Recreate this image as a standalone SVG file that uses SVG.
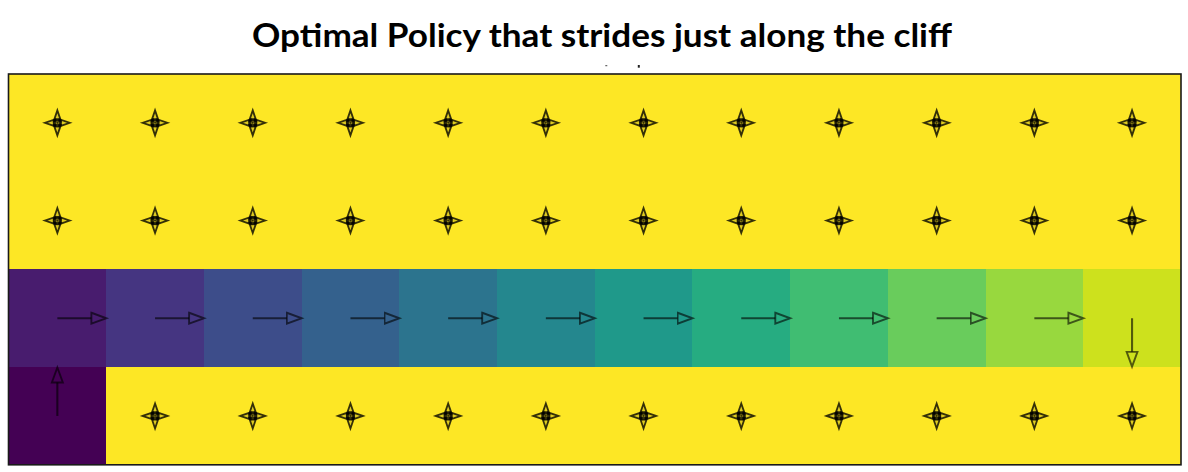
<svg xmlns="http://www.w3.org/2000/svg" xmlns:xlink="http://www.w3.org/1999/xlink" width="1188" height="472" viewBox="0 0 1188 472">
  <style>
    .title { font-family: "Lato", "Liberation Sans", sans-serif; font-weight: bold; font-size: 33px; fill: #000; }
    rect.c { shape-rendering: crispEdges; }
    .y { fill: #fde725; }
    .arr { stroke: #000; stroke-opacity: 0.6; stroke-width: 2.1; fill: none; }
    .starArm { stroke: #000; stroke-opacity: 0.78; stroke-width: 1.8; fill: #000; fill-opacity: 0.12; stroke-linejoin: miter; }
  </style>
  <defs>
    <marker id="head" markerUnits="userSpaceOnUse" markerWidth="20" markerHeight="16" refX="1" refY="8" orient="auto" viewBox="0 0 20 16">
      <path d="M1,2.5 L16,8 L1,13.5 Z" fill="none" stroke="#000" stroke-opacity="0.6" stroke-width="1.9"/>
    </marker>
    <g id="star">
      <path class="starArm" d="M0,-12.5 L-3.6,-2 L3.6,-2 Z"/>
      <path class="starArm" d="M0,12.5 L-3.6,2 L3.6,2 Z"/>
      <path class="starArm" d="M-12.5,0 L-2,-3.6 L-2,3.6 Z"/>
      <path class="starArm" d="M12.5,0 L2,-3.6 L2,3.6 Z"/>
      <circle r="3.6" fill="none" stroke="#000" stroke-opacity="0.85" stroke-width="2"/>
      <circle r="1.1" fill="#000" fill-opacity="0.8"/>
    </g>
  </defs>

  <rect width="1188" height="472" fill="#ffffff"/>
  <text class="title" x="602" y="47" text-anchor="middle" textLength="700" lengthAdjust="spacingAndGlyphs">Optimal Policy that strides just along the cliff</text>
  <rect x="605.3" y="65.2" width="2" height="1" fill="#444"/>
  <rect x="637.8" y="65" width="2" height="2.7" fill="#222"/>

  <rect class="c y" x="8.5" y="74" width="1172.5" height="390.8"/>

  <!-- row 0 -->
  <g id="cell-0-0"><rect class="c y" x="8.5" y="74" width="97.7" height="97.7"/><use xlink:href="#star" x="57.35" y="122.85"/></g>
  <g id="cell-0-1"><rect class="c y" x="106.2" y="74" width="97.7" height="97.7"/><use xlink:href="#star" x="155.05" y="122.85"/></g>
  <g id="cell-0-2"><rect class="c y" x="203.9" y="74" width="97.7" height="97.7"/><use xlink:href="#star" x="252.75" y="122.85"/></g>
  <g id="cell-0-3"><rect class="c y" x="301.6" y="74" width="97.7" height="97.7"/><use xlink:href="#star" x="350.45" y="122.85"/></g>
  <g id="cell-0-4"><rect class="c y" x="399.3" y="74" width="97.7" height="97.7"/><use xlink:href="#star" x="448.15" y="122.85"/></g>
  <g id="cell-0-5"><rect class="c y" x="497" y="74" width="97.7" height="97.7"/><use xlink:href="#star" x="545.85" y="122.85"/></g>
  <g id="cell-0-6"><rect class="c y" x="594.7" y="74" width="97.7" height="97.7"/><use xlink:href="#star" x="643.55" y="122.85"/></g>
  <g id="cell-0-7"><rect class="c y" x="692.4" y="74" width="97.7" height="97.7"/><use xlink:href="#star" x="741.25" y="122.85"/></g>
  <g id="cell-0-8"><rect class="c y" x="790.1" y="74" width="97.7" height="97.7"/><use xlink:href="#star" x="838.95" y="122.85"/></g>
  <g id="cell-0-9"><rect class="c y" x="887.8" y="74" width="97.7" height="97.7"/><use xlink:href="#star" x="936.65" y="122.85"/></g>
  <g id="cell-0-10"><rect class="c y" x="985.5" y="74" width="97.7" height="97.7"/><use xlink:href="#star" x="1034.35" y="122.85"/></g>
  <g id="cell-0-11"><rect class="c y" x="1083.2" y="74" width="97.8" height="97.7"/><use xlink:href="#star" x="1132.05" y="122.85"/></g>

  <!-- row 1 -->
  <g id="cell-1-0"><rect class="c y" x="8.5" y="171.7" width="97.7" height="97.7"/><use xlink:href="#star" x="57.35" y="220.55"/></g>
  <g id="cell-1-1"><rect class="c y" x="106.2" y="171.7" width="97.7" height="97.7"/><use xlink:href="#star" x="155.05" y="220.55"/></g>
  <g id="cell-1-2"><rect class="c y" x="203.9" y="171.7" width="97.7" height="97.7"/><use xlink:href="#star" x="252.75" y="220.55"/></g>
  <g id="cell-1-3"><rect class="c y" x="301.6" y="171.7" width="97.7" height="97.7"/><use xlink:href="#star" x="350.45" y="220.55"/></g>
  <g id="cell-1-4"><rect class="c y" x="399.3" y="171.7" width="97.7" height="97.7"/><use xlink:href="#star" x="448.15" y="220.55"/></g>
  <g id="cell-1-5"><rect class="c y" x="497" y="171.7" width="97.7" height="97.7"/><use xlink:href="#star" x="545.85" y="220.55"/></g>
  <g id="cell-1-6"><rect class="c y" x="594.7" y="171.7" width="97.7" height="97.7"/><use xlink:href="#star" x="643.55" y="220.55"/></g>
  <g id="cell-1-7"><rect class="c y" x="692.4" y="171.7" width="97.7" height="97.7"/><use xlink:href="#star" x="741.25" y="220.55"/></g>
  <g id="cell-1-8"><rect class="c y" x="790.1" y="171.7" width="97.7" height="97.7"/><use xlink:href="#star" x="838.95" y="220.55"/></g>
  <g id="cell-1-9"><rect class="c y" x="887.8" y="171.7" width="97.7" height="97.7"/><use xlink:href="#star" x="936.65" y="220.55"/></g>
  <g id="cell-1-10"><rect class="c y" x="985.5" y="171.7" width="97.7" height="97.7"/><use xlink:href="#star" x="1034.35" y="220.55"/></g>
  <g id="cell-1-11"><rect class="c y" x="1083.2" y="171.7" width="97.8" height="97.7"/><use xlink:href="#star" x="1132.05" y="220.55"/></g>

  <!-- row 2 (path along the cliff) -->
  <g id="cell-2-0"><rect class="c" x="8.5" y="269.4" width="97.7" height="97.7" fill="#481c6e"/></g>
  <g id="cell-2-1"><rect class="c" x="106.2" y="269.4" width="97.7" height="97.7" fill="#453581"/></g>
  <g id="cell-2-2"><rect class="c" x="203.9" y="269.4" width="97.7" height="97.7" fill="#3d4d8a"/></g>
  <g id="cell-2-3"><rect class="c" x="301.6" y="269.4" width="97.7" height="97.7" fill="#34618d"/></g>
  <g id="cell-2-4"><rect class="c" x="399.3" y="269.4" width="97.7" height="97.7" fill="#2c748e"/></g>
  <g id="cell-2-5"><rect class="c" x="497" y="269.4" width="97.7" height="97.7" fill="#24878e"/></g>
  <g id="cell-2-6"><rect class="c" x="594.7" y="269.4" width="97.7" height="97.7" fill="#1f998a"/></g>
  <g id="cell-2-7"><rect class="c" x="692.4" y="269.4" width="97.7" height="97.7" fill="#26ac81"/></g>
  <g id="cell-2-8"><rect class="c" x="790.1" y="269.4" width="97.7" height="97.7" fill="#40bd72"/></g>
  <g id="cell-2-9"><rect class="c" x="887.8" y="269.4" width="97.7" height="97.7" fill="#69cc5c"/></g>
  <g id="cell-2-10"><rect class="c" x="985.5" y="269.4" width="97.7" height="97.7" fill="#98d83e"/></g>
  <g id="cell-2-11"><rect class="c" x="1083.2" y="269.4" width="97.8" height="97.7" fill="#cde11d"/></g>

  <!-- row 3 -->
  <g id="cell-3-0"><rect class="c" x="8.5" y="367.1" width="97.7" height="97.7" fill="#440154"/></g>
  <g id="cell-3-1"><rect class="c y" x="106.2" y="367.1" width="97.7" height="97.7"/><use xlink:href="#star" x="155.05" y="415.95"/></g>
  <g id="cell-3-2"><rect class="c y" x="203.9" y="367.1" width="97.7" height="97.7"/><use xlink:href="#star" x="252.75" y="415.95"/></g>
  <g id="cell-3-3"><rect class="c y" x="301.6" y="367.1" width="97.7" height="97.7"/><use xlink:href="#star" x="350.45" y="415.95"/></g>
  <g id="cell-3-4"><rect class="c y" x="399.3" y="367.1" width="97.7" height="97.7"/><use xlink:href="#star" x="448.15" y="415.95"/></g>
  <g id="cell-3-5"><rect class="c y" x="497" y="367.1" width="97.7" height="97.7"/><use xlink:href="#star" x="545.85" y="415.95"/></g>
  <g id="cell-3-6"><rect class="c y" x="594.7" y="367.1" width="97.7" height="97.7"/><use xlink:href="#star" x="643.55" y="415.95"/></g>
  <g id="cell-3-7"><rect class="c y" x="692.4" y="367.1" width="97.7" height="97.7"/><use xlink:href="#star" x="741.25" y="415.95"/></g>
  <g id="cell-3-8"><rect class="c y" x="790.1" y="367.1" width="97.7" height="97.7"/><use xlink:href="#star" x="838.95" y="415.95"/></g>
  <g id="cell-3-9"><rect class="c y" x="887.8" y="367.1" width="97.7" height="97.7"/><use xlink:href="#star" x="936.65" y="415.95"/></g>
  <g id="cell-3-10"><rect class="c y" x="985.5" y="367.1" width="97.7" height="97.7"/><use xlink:href="#star" x="1034.35" y="415.95"/></g>
  <g id="cell-3-11"><rect class="c y" x="1083.2" y="367.1" width="97.8" height="97.7"/><use xlink:href="#star" x="1132.05" y="415.95"/></g>

  <!-- connectors: policy arrows -->
  <g id="connectors">
    <line class="arr" x1="57.35" y1="415.95" x2="57.35" y2="382.5" marker-end="url(#head)"/>
    <line class="arr" x1="57.35" y1="318.25" x2="91.4" y2="318.25" marker-end="url(#head)"/>
    <line class="arr" x1="155.05" y1="318.25" x2="189.1" y2="318.25" marker-end="url(#head)"/>
    <line class="arr" x1="252.75" y1="318.25" x2="286.8" y2="318.25" marker-end="url(#head)"/>
    <line class="arr" x1="350.45" y1="318.25" x2="384.5" y2="318.25" marker-end="url(#head)"/>
    <line class="arr" x1="448.15" y1="318.25" x2="482.2" y2="318.25" marker-end="url(#head)"/>
    <line class="arr" x1="545.85" y1="318.25" x2="579.9" y2="318.25" marker-end="url(#head)"/>
    <line class="arr" x1="643.55" y1="318.25" x2="677.6" y2="318.25" marker-end="url(#head)"/>
    <line class="arr" x1="741.25" y1="318.25" x2="775.3" y2="318.25" marker-end="url(#head)"/>
    <line class="arr" x1="838.95" y1="318.25" x2="873" y2="318.25" marker-end="url(#head)"/>
    <line class="arr" x1="936.65" y1="318.25" x2="970.7" y2="318.25" marker-end="url(#head)"/>
    <line class="arr" x1="1034.35" y1="318.25" x2="1068.4" y2="318.25" marker-end="url(#head)"/>
    <line class="arr" x1="1132.05" y1="318.25" x2="1132.05" y2="351.7" marker-end="url(#head)"/>
  </g>

  <rect x="8.5" y="74" width="1172.5" height="390.8" fill="none" stroke="#1a1a1a" stroke-width="1.6"/>
</svg>
